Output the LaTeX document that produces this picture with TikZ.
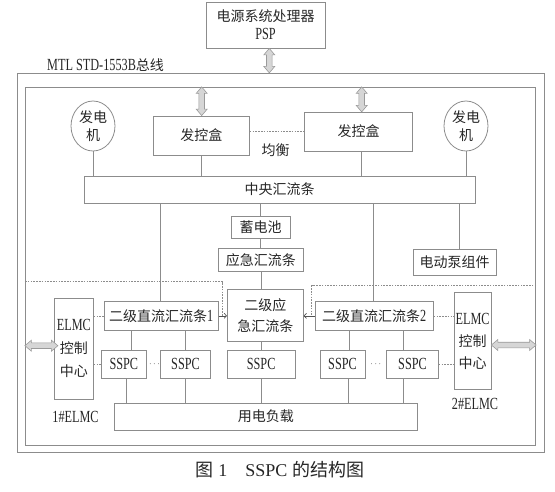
\documentclass[tikz,border=0pt]{standalone}
\usepackage{fontspec}
\setmainfont{Liberation Serif}
\newfontfamily\cjk{Noto Sans CJK SC}
\newfontfamily\lat[FakeStretch=0.72]{Liberation Serif}
\newcommand\lt[1]{{\lat\fontsize{17}{18}\selectfont #1}}
\usetikzlibrary{shapes.geometric,arrows.meta,calc}
\definecolor{lncol}{HTML}{8C8C8C}
\definecolor{txcol}{HTML}{262626}
\definecolor{fatfill}{HTML}{D6D6D6}
\definecolor{fatline}{HTML}{9A9A9A}
\begin{document}
\begin{tikzpicture}[x=1pt,y=-1pt,
  every node/.style={text=txcol, font=\cjk\fontsize{14}{18}\selectfont},
  box/.style={draw=lncol, line width=0.8pt, inner sep=0pt, align=center},
  ln/.style={draw=lncol, line width=0.8pt},
  dsh/.style={draw=lncol, line width=0.7pt, dash pattern=on 1.6pt off 1.2pt},
  arr/.style={draw=txcol!80, line width=0.7pt, -{To[length=3pt,width=5.5pt]}},
  fatv/.style={fill=fatfill, draw=fatline, line width=0.6pt, to path={
    let \p1=(\tikztostart), \p2=(\tikztotarget) in
    (\x1,\y1) -- (\x1+5.5pt,\y1-6.5pt) -- (\x1+2.8pt,\y1-6.5pt) -- (\x1+2.8pt,\y2+6.5pt)
    -- (\x1+5.5pt,\y2+6.5pt) -- (\x1,\y2) -- (\x1-5.5pt,\y2+6.5pt) -- (\x1-2.8pt,\y2+6.5pt)
    -- (\x1-2.8pt,\y1-6.5pt) -- (\x1-5.5pt,\y1-6.5pt) -- cycle}},
  fath/.style={fill=fatfill, draw=fatline, line width=0.6pt, to path={
    let \p1=(\tikztostart), \p2=(\tikztotarget) in
    (\x1,\y1) -- (\x1+6.5pt,\y1+5.5pt) -- (\x1+6.5pt,\y1+2.8pt) -- (\x2-6.5pt,\y1+2.8pt)
    -- (\x2-6.5pt,\y1+5.5pt) -- (\x2,\y1) -- (\x2-6.5pt,\y1-5.5pt) -- (\x2-6.5pt,\y1-2.8pt)
    -- (\x1+6.5pt,\y1-2.8pt) -- (\x1+6.5pt,\y1-5.5pt) -- cycle}}
]
\useasboundingbox (0,0) rectangle (555,491);

% boxes
\node[box, minimum width=119, minimum height=46] (psp) at (265.5,25) {电源系统处理器\\\lt{PSP}};
\node[box, minimum width=527, minimum height=379.4] (outer) at (280.8,263) {};
\node[box, minimum width=510.4, minimum height=357.7] (inner) at (280.5,266.15) {};
\node[anchor=west, inner sep=0pt] (mtl) at (47,65) {\lt{MTL STD-1553B}总线};

\node[box, ellipse, minimum width=44, minimum height=50] (g1) at (93,126) {发电\\机};
\node[box, ellipse, minimum width=44, minimum height=50] (g2) at (466,126) {发电\\机};
\node[box, minimum width=96, minimum height=39.3] (fk1) at (201.3,135.65) {发控盒};
\node[box, minimum width=108.4, minimum height=38.7] (fk2) at (358.5,131.65) {发控盒};
\node (jh) at (275.7,150) {均衡};
\node[box, minimum width=391, minimum height=27.3] (cbus) at (279.5,189.65) {中央汇流条};
\node[box, minimum width=59.3, minimum height=21.6] (bat) at (260.65,227.5) {蓄电池};
\node[box, minimum width=85, minimum height=23.4] (ej) at (260.8,260) {应急汇流条};
\node[box, minimum width=82.7, minimum height=26] (pump) at (454.65,262) {电动泵组件};
\node[box, minimum width=76, minimum height=52.4] (ej2) at (265.3,315.5) {二级应\\[3.5pt]急汇流条};
\node[box, minimum width=114, minimum height=28.3] (b1) at (161.3,315.85) {二级直流汇流条\lt{1}};
\node[box, minimum width=118.3, minimum height=28.3] (b2) at (374.15,315.85) {二级直流汇流条\lt{2}};
\node[box, minimum width=39, minimum height=100.7, font=\cjk\fontsize{14}{23}\selectfont] (elmc1) at (73.8,348.65) {\lt{ELMC}\\控制\\中心};
\node[box, minimum width=36.7, minimum height=96.6, font=\cjk\fontsize{14}{22}\selectfont] (elmc2) at (472.65,341) {\lt{ELMC}\\控制\\中心};
\node (l1) at (75.5,416.7) {\lt{1\#ELMC}};
\node (l2) at (475,404) {\lt{2\#ELMC}};
\node[box, minimum width=45.7, minimum height=28.3] (s1) at (123.85,364.15) {\lt{SSPC}};
\node[box, minimum width=50.4, minimum height=28.3] (s2) at (185.5,364.15) {\lt{SSPC}};
\node[box, minimum width=67.7, minimum height=28.3] (sm) at (261.15,364.15) {\lt{SSPC}};
\node[box, minimum width=45, minimum height=28.3] (s3) at (342.5,364.15) {\lt{SSPC}};
\node[box, minimum width=51.6, minimum height=28.3] (s4) at (412.5,364.15) {\lt{SSPC}};
\node[font=\fontsize{9}{9}\selectfont] (d1) at (154.5,364.5) {$\cdots$};
\node[font=\fontsize{9}{9}\selectfont] (d2) at (375.8,364.5) {$\cdots$};
\node[box, minimum width=303, minimum height=26.7] (load) at (265.8,416.65) {用电负载};
\node[font=\fontsize{18}{20}\selectfont] (cap) at (280,470) {{\cjk 图}\ 1\quad SSPC\ {\cjk 的结构图}};

% helper columns / rows
\coordinate (pa) at (269.3,0);
\coordinate (fa1) at (201.7,0);
\coordinate (fa2) at (361.7,0);
\coordinate (ea1) at (0,345.7);
\coordinate (ea2) at (0,345);
\coordinate (jr) at (0,131);
\coordinate (cb1) at (160,0);
\coordinate (cbat) at (260,0);
\coordinate (cb2) at (373.3,0);
\coordinate (cpump) at (459.3,0);
\coordinate (cej) at (261,0);
\coordinate (cs1a) at (131.7,0);
\coordinate (cs1b) at (126.7,0);
\coordinate (cs2) at (185,0);
\coordinate (cs3a) at (349.3,0);
\coordinate (cs3b) at (348.3,0);
\coordinate (cs4) at (403.3,0);
\coordinate (dl) at (222.3,281.7);
\coordinate (dr) at (311.7,285.7);

% fat bus arrows
\draw[fatv] (psp.south -| pa) to (outer.north -| pa);
\draw[fatv] (inner.north -| fa1) to (fk1.north -| fa1);
\draw[fatv] (inner.north -| fa2) to (fk2.north -| fa2);
\draw[fath] (inner.west |- ea1) to ($(elmc1.west |- ea1)+(4,0)$);
\draw[fath] (elmc2.east |- ea2) to (inner.east |- ea2);

% upper connectors
\draw[ln] (g1.south) -- (cbus.north -| g1.south);
\draw[ln] (g2.south) -- (cbus.north -| g2.south);
\draw[ln] (fk1.south -| fa1) -- (cbus.north -| fa1);
\draw[ln] (fk2.south -| fa2) -- (cbus.north -| fa2);
\draw[dsh] (fk1.east |- jr) -- (fk2.west |- jr);

\draw[ln] (cbus.south -| cb1) -- (b1.north -| cb1);
\draw[ln] (cbus.south -| cbat) -- (bat.north -| cbat);
\draw[ln] (bat.south -| cbat) -- (ej.north -| cbat);
\draw[ln] (ej.south -| cej) -- (ej2.north -| cej);
\draw[ln] (cbus.south -| cb2) -- (b2.north -| cb2);
\draw[ln] (cbus.south -| cpump) -- (pump.north -| cpump);

% dashed control lines
\draw[dsh] (inner.west |- dl) -- (dl) -- (dl |- b1.east);
\draw[dsh] (inner.east |- dr) -- (dr) -- (dr |- b2.west);

% arrows into secondary emergency bus
\draw[arr] (b1.east) -- (b1.east -| ej2.west);
\draw[arr] (b2.west) -- (b2.west -| ej2.east);

% ELMC dotted links
\draw[dsh] (elmc1.east |- b1.west) -- (b1.west);
\draw[dsh] (elmc1.east |- s1.west) -- (s1.west);
\draw[dsh] (b2.east) -- (elmc2.west |- b2.east);
\draw[dsh] (s4.east) -- (elmc2.west |- s4.east);

% SSPC connectors
\draw[ln] (b1.south -| cs1a) -- (s1.north -| cs1a);
\draw[ln] (s1.south -| cs1b) -- (load.north -| cs1b);
\draw[ln] (b1.south -| cs2) -- (s2.north -| cs2);
\draw[ln] (s2.south -| cs2) -- (load.north -| cs2);
\draw[ln] (ej2.south -| cej) -- (sm.north -| cej);
\draw[ln] (sm.south -| cej) -- (load.north -| cej);
\draw[ln] (b2.south -| cs3a) -- (s3.north -| cs3a);
\draw[ln] (s3.south -| cs3b) -- (load.north -| cs3b);
\draw[ln] (b2.south -| cs4) -- (s4.north -| cs4);
\draw[ln] (s4.south -| cs4) -- (load.north -| cs4);
\end{tikzpicture}
\end{document}
